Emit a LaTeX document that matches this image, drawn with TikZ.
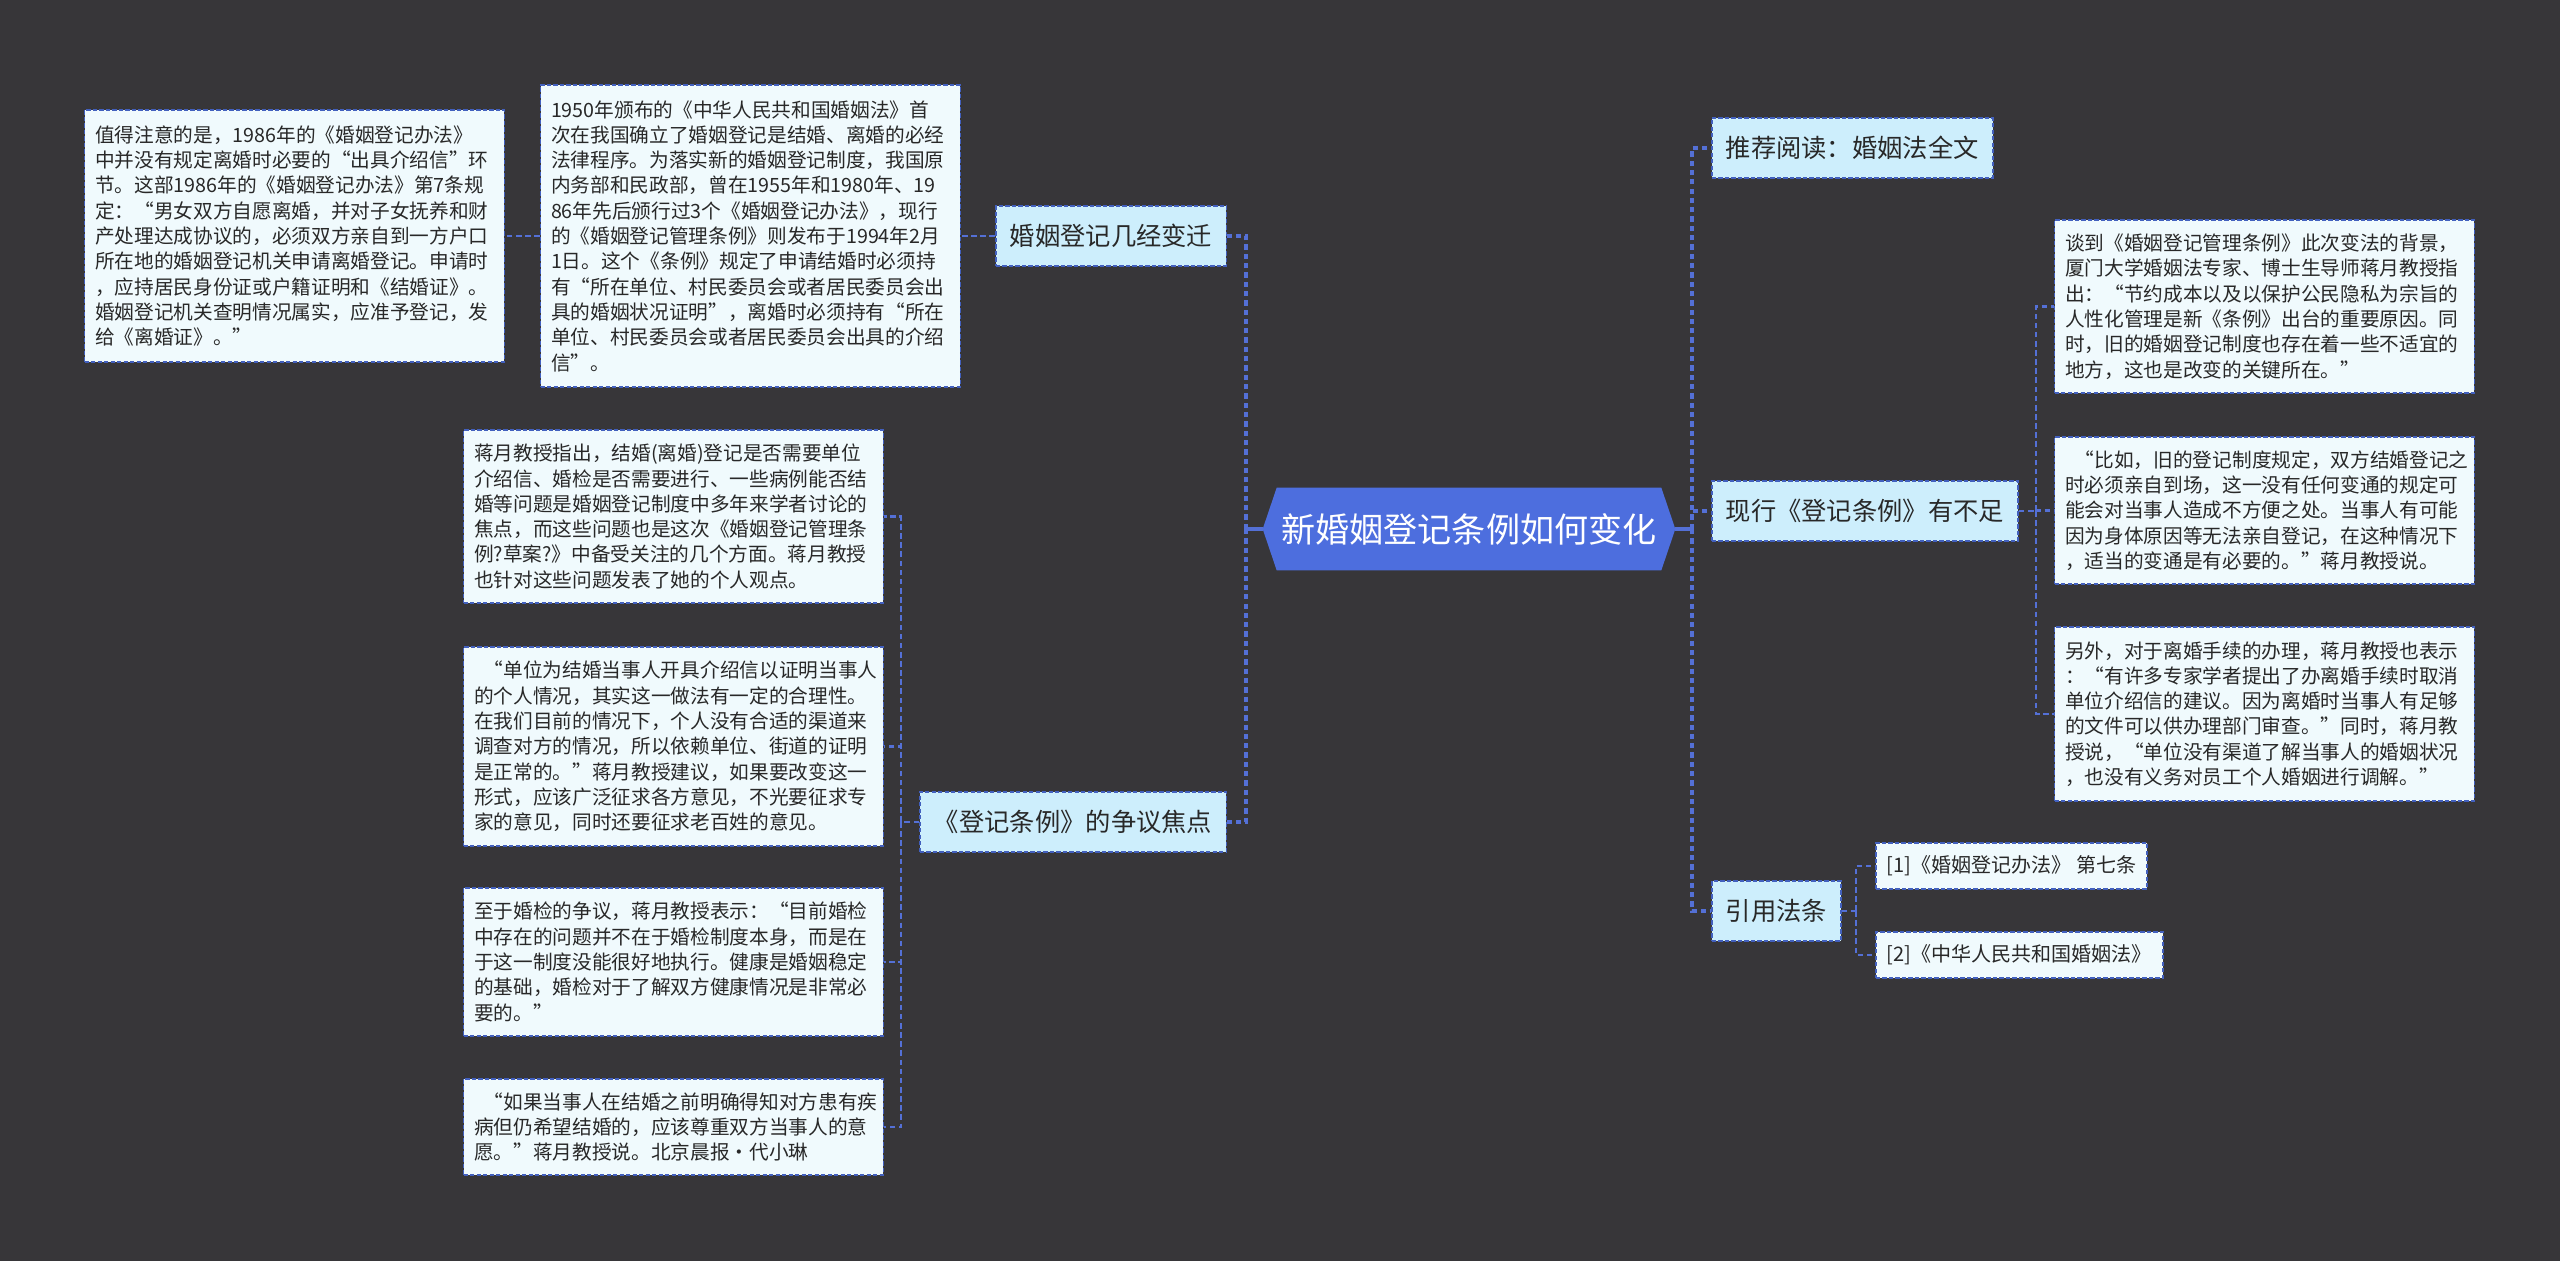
\documentclass[tikz,border=0pt]{standalone}
\usepackage{fontspec}
\setmainfont{Noto Sans CJK SC}
\usetikzlibrary{backgrounds}
\definecolor{bgdark}{RGB}{55,54,57}
\definecolor{hubblue}{RGB}{77,110,222}
\definecolor{linkblue}{RGB}{84,112,214}
\definecolor{edgeblue}{RGB}{66,96,190}
\definecolor{branchfill}{RGB}{205,238,252}
\definecolor{leaffill}{RGB}{240,250,253}
\definecolor{inkgrey}{RGB}{40,40,40}

\begin{document}
\begin{tikzpicture}[
  x=0.02cm, y=-0.02cm,
  hub/.style={rectangle, text=white, minimum width=8.24cm,
              minimum height=1.64cm, inner sep=0pt,
              font=\fontsize{19.4pt}{23pt}\selectfont},
  branch/.style={rectangle, draw=edgeblue, dash pattern=on 2.5pt off 1.2pt,
              line width=0.85pt, fill=branchfill, text=inkgrey,
              minimum height=1.2cm, inner xsep=0.28cm,
              font=\fontsize{14.4pt}{18pt}\selectfont},
  leaf/.style={rectangle, draw=edgeblue, dash pattern=on 2.5pt off 1.2pt,
              line width=0.85pt, fill=leaffill, text=inkgrey, align=left,
              text width=7.98cm, inner xsep=0.21cm,
              font=\fontsize{11.2pt}{14.4pt}\selectfont},
  cite/.style={rectangle, draw=edgeblue, dash pattern=on 2.5pt off 1.2pt,
              line width=0.85pt, fill=leaffill, text=inkgrey,
              minimum height=0.92cm, inner xsep=0.22cm,
              font=\fontsize{11.4pt}{14pt}\selectfont},
  link/.style={draw=linkblue, line width=1.3pt, dash pattern=on 3.2pt off 2pt},
  spine/.style={draw=linkblue, line width=1.8pt, dash pattern=on 3pt off 2.3pt},
  stem/.style={draw=linkblue, line width=1.8pt}
]
\useasboundingbox (0,0) rectangle (2560,1261);
\begin{scope}[on background layer]
  \fill[bgdark] (0,0) rectangle (2560,1261);
\end{scope}

% ── Central topic (hexagon filled behind the text) ──
\node[hub] (root) at (1469,529) {新婚姻登记条例如何变化};
\begin{scope}[on background layer]
  \fill[hubblue] (root.west) -- ([xshift=0.28cm]root.north west)
    -- ([xshift=-0.28cm]root.north east) -- (root.east)
    -- ([xshift=-0.28cm]root.south east) -- ([xshift=0.28cm]root.south west)
    -- cycle;
\end{scope}

% ── Left: history branch (chain of two notes) ──
\node[branch, anchor=east] (chgbranch) at (1227,236) {婚姻登记几经变迁};
\node[leaf, minimum height=6.04cm] (hist1950) at (750.5,236)
  {1950年颁布的《中华人民共和国婚姻法》首\\
   次在我国确立了婚姻登记是结婚、离婚的必经\\
   法律程序。为落实新的婚姻登记制度，我国原\\
   内务部和民政部，曾在1955年和1980年、19\\
   86年先后颁行过3个《婚姻登记办法》，现行\\
   的《婚姻登记管理条例》则发布于1994年2月\\
   1日。这个《条例》规定了申请结婚时必须持\\
   有“所在单位、村民委员会或者居民委员会出\\
   具的婚姻状况证明”，离婚时必须持有“所在\\
   单位、村民委员会或者居民委员会出具的介绍\\
   信”。};
\node[leaf, minimum height=5.04cm] (note1986) at (294.5,236)
  {值得注意的是，1986年的《婚姻登记办法》\\
   中并没有规定离婚时必要的“出具介绍信”环\\
   节。这部1986年的《婚姻登记办法》第7条规\\
   定：“男女双方自愿离婚，并对子女抚养和财\\
   产处理达成协议的，必须双方亲自到一方户口\\
   所在地的婚姻登记机关申请离婚登记。申请时\\
   ，应持居民身份证或户籍证明和《结婚证》。\\
   婚姻登记机关查明情况属实，应准予登记，发\\
   给《离婚证》。”};

% ── Left: controversy branch ──
\node[branch, anchor=east] (focusbranch) at (1227,822) {《登记条例》的争议焦点};
\node[leaf, minimum height=3.46cm] (focusA) at (673.5,516.5)
  {蒋月教授指出，结婚(离婚)登记是否需要单位\\
   介绍信、婚检是否需要进行、一些病例能否结\\
   婚等问题是婚姻登记制度中多年来学者讨论的\\
   焦点，而这些问题也是这次《婚姻登记管理条\\
   例?草案?》中备受关注的几个方面。蒋月教授\\
   也针对这些问题发表了她的个人观点。};
\node[leaf, minimum height=3.98cm] (focusB) at (673.5,746.5)
  {\hspace*{.5em}“单位为结婚当事人开具介绍信以证明当事人\\
   的个人情况，其实这一做法有一定的合理性。\\
   在我们目前的情况下，个人没有合适的渠道来\\
   调查对方的情况，所以依赖单位、街道的证明\\
   是正常的。”蒋月教授建议，如果要改变这一\\
   形式，应该广泛征求各方意见，不光要征求专\\
   家的意见，同时还要征求老百姓的意见。};
\node[leaf, minimum height=2.96cm] (focusC) at (673.5,962)
  {至于婚检的争议，蒋月教授表示：“目前婚检\\
   中存在的问题并不在于婚检制度本身，而是在\\
   于这一制度没能很好地执行。健康是婚姻稳定\\
   的基础，婚检对于了解双方健康情况是非常必\\
   要的。”};
\node[leaf, minimum height=1.92cm] (focusD) at (673.5,1127)
  {\hspace*{.5em}“如果当事人在结婚之前明确得知对方患有疾\\
   病但仍希望结婚的，应该尊重双方当事人的意\\
   愿。”蒋月教授说。北京晨报·代小琳};

% ── Right: reading, shortcomings, citations ──
\node[branch, anchor=west] (readbranch) at (1711,148) {推荐阅读：婚姻法全文};
\node[branch, anchor=west] (lackbranch) at (1711,511) {现行《登记条例》有不足};
\node[leaf, minimum height=3.46cm] (lackA) at (2264.5,306.5)
  {谈到《婚姻登记管理条例》此次变法的背景，\\
   厦门大学婚姻法专家、博士生导师蒋月教授指\\
   出：“节约成本以及以保护公民隐私为宗旨的\\
   人性化管理是新《条例》出台的重要原因。同\\
   时，旧的婚姻登记制度也存在着一些不适宜的\\
   地方，这也是改变的关键所在。”};
\node[leaf, minimum height=2.94cm] (lackB) at (2264.5,510.5)
  {\hspace*{.5em}“比如，旧的登记制度规定，双方结婚登记之\\
   时必须亲自到场，这一没有任何变通的规定可\\
   能会对当事人造成不方便之处。当事人有可能\\
   因为身体原因等无法亲自登记，在这种情况下\\
   ，适当的变通是有必要的。”蒋月教授说。};
\node[leaf, minimum height=3.48cm] (lackC) at (2264.5,714)
  {另外，对于离婚手续的办理，蒋月教授也表示\\
   ：“有许多专家学者提出了办离婚手续时取消\\
   单位介绍信的建议。因为离婚时当事人有足够\\
   的文件可以供办理部门审查。”同时，蒋月教\\
   授说，“单位没有渠道了解当事人的婚姻状况\\
   ，也没有义务对员工个人婚姻进行调解。”};
\node[branch, anchor=west] (citebranch) at (1711,911) {引用法条};
\node[cite, anchor=west] (citeA) at (1875,866) {[1]《婚姻登记办法》 第七条};
\node[cite, anchor=west] (citeB) at (1875,955) {[2]《中华人民共和国婚姻法》};

% ── Bus points ──
\coordinate (lbus) at (1246,529);
\coordinate (rbus) at (1692,529);
\coordinate (focusbus) at (901,822);
\coordinate (lackbus) at (2036,511);
\coordinate (citebus) at (1856,911);

% ── Connectors: root → spines ──
\draw[stem] (root.west) -- (lbus);
\draw[stem] (root.east) -- (rbus);
\draw[spine] (lbus) |- (chgbranch.east);
\draw[spine] (lbus) |- (focusbranch.east);
\draw[spine] (rbus) |- (readbranch.west);
\draw[spine] (rbus) |- (lackbranch.west);
\draw[spine] (rbus) |- (citebranch.west);

% ── Connectors: branches → notes ──
\draw[link] (chgbranch.west) -- (hist1950.east);
\draw[link] (hist1950.west)  -- (note1986.east);
\draw[link] (focusbranch.west) -- (focusbus);
\draw[link] (focusbus) |- (focusA.east);
\draw[link] (focusbus) |- (focusB.east);
\draw[link] (focusbus) |- (focusC.east);
\draw[link] (focusbus) |- (focusD.east);
\draw[link] (lackbranch.east) -- (lackbus);
\draw[link] (lackbus) |- (lackA.west);
\draw[link] (lackbus) |- (lackB.west);
\draw[link] (lackbus) |- (lackC.west);
\draw[link] (citebranch.east) -- (citebus);
\draw[link] (citebus) |- (citeA.west);
\draw[link] (citebus) |- (citeB.west);

\end{tikzpicture}
\end{document}
